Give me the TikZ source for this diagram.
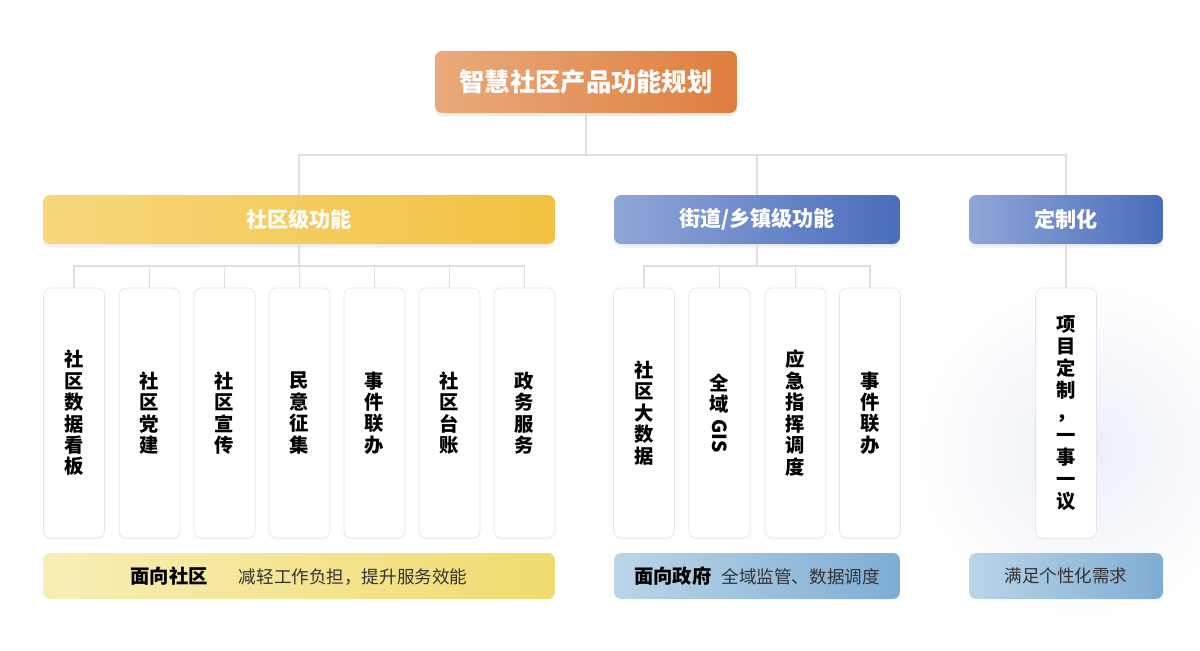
\documentclass[tikz,border=0pt]{standalone}
\usepackage{fontspec}
\usepackage{graphicx}
\setmainfont{Noto Sans CJK SC}
\usepackage{tikz}
\usetikzlibrary{shadows}
\definecolor{linkgray}{HTML}{DEDEE4}
\definecolor{boxedge}{HTML}{E4E4EC}
\definecolor{glowblue}{HTML}{EBEFF8}
\definecolor{orangeA}{HTML}{E9AA7C}
\definecolor{orangeB}{HTML}{DF7E3E}
\definecolor{yellowA}{HTML}{F7D77C}
\definecolor{yellowB}{HTML}{F2C141}
\definecolor{blueA}{HTML}{8FA6D8}
\definecolor{blueB}{HTML}{4A6DBB}
\definecolor{paleyA}{HTML}{F8EEB6}
\definecolor{paleyB}{HTML}{F0DB6E}
\definecolor{palebA}{HTML}{BAD5E8}
\definecolor{palebB}{HTML}{7EADD3}
\definecolor{textgray}{HTML}{333333}
\tikzstyle{link}=[draw=linkgray, line width=0.6pt]
\tikzstyle{head}=[rounded corners=4pt, inner sep=0pt, minimum height=0.98cm, text=white, font=\fontsize{12}{14}\selectfont\bfseries, drop shadow={opacity=0.12, shadow xshift=0pt, shadow yshift=-2pt}]
\tikzstyle{title}=[head, minimum width=6.04cm, minimum height=1.24cm, left color=orangeA, right color=orangeB, font=\fontsize{14.4}{16}\selectfont\bfseries]
\tikzstyle{yhead}=[head, left color=yellowA, right color=yellowB]
\tikzstyle{bhead}=[head, left color=blueA, right color=blueB]
\tikzstyle{func}=[draw=boxedge, fill=white, rounded corners=4pt, inner sep=0pt, minimum width=1.22cm, minimum height=5cm, align=center, font=\fontsize{11}{12.2}\selectfont\bfseries, drop shadow={opacity=0.05, shadow xshift=0pt, shadow yshift=-1pt}]
\tikzstyle{bar}=[rounded corners=4pt, inner sep=0pt, minimum height=0.92cm, text=black]
\tikzstyle{ybar}=[bar, left color=paleyA, right color=paleyB]
\tikzstyle{bbar}=[bar, left color=palebA, right color=palebB]
\newcommand{\barhead}[1]{{\fontsize{11}{13}\selectfont\bfseries #1}}
\newcommand{\bartext}[1]{{\fontsize{10}{12}\selectfont\color{textgray}#1}}
\begin{document}
\begin{tikzpicture}[x=0.02cm, y=-0.02cm]
        \useasboundingbox (0,0) rectangle (1200,650);
        \shade[inner color=glowblue, outer color=white] (1085, 450) circle (170);
        \node[title]                              (top) at (586, 82) {智慧社区产品功能规划};
        \node[yhead, minimum width=10.24cm]       (G1) at (299, 219.5) {社区级功能};
        \node[bhead, minimum width=5.72cm]        (G2) at (757, 219.5) {街道/乡镇级功能};
        \node[bhead, minimum width=3.88cm]        (G3) at (1066, 219.5) {定制化};
        \node[func] (A1) at (74, 413)    {社\\区\\数\\据\\看\\板};
        \node[func] (A2) at (149.5, 413) {社\\区\\党\\建};
        \node[func] (A3) at (224.5, 413) {社\\区\\宣\\传};
        \node[func] (A4) at (299.5, 413) {民\\意\\征\\集};
        \node[func] (A5) at (374.5, 413) {事\\件\\联\\办};
        \node[func] (A6) at (449.5, 413) {社\\区\\台\\账};
        \node[func] (A7) at (524.5, 413) {政\\务\\服\\务};
        \node[func] (B1) at (644, 413)   {社\\区\\大\\数\\据};
        \node[func] (B2) at (719.5, 413) {全\\域\\\raisebox{8pt}{\rotatebox{-90}{GIS}}};
        \node[func] (B3) at (795.5, 413) {应\\急\\指\\挥\\调\\度};
        \node[func] (B4) at (870, 413)   {事\\件\\联\\办};
        \node[func, font=\fontsize{11}{12.6}\selectfont\bfseries] (C1) at (1066, 413) {项\\目\\定\\制\\，\\一\\事\\一\\议};
        \node[ybar, minimum width=10.24cm] (P1) at (299, 576) {\barhead{面向社区}\hspace{0.62cm}\bartext{减轻工作负担，提升服务效能}};
        \node[bbar, minimum width=5.72cm]  (P2) at (757, 576) {\barhead{面向政府}\hspace{0.2cm}\bartext{全域监管、数据调度}};
        \node[bbar, minimum width=3.88cm]  (P3) at (1066, 576) {\bartext{满足个性化需求}};
        \coordinate (hub) at (586, 155);
        \coordinate (S1) at (299.5, 266);
        \coordinate (S2) at (757, 266);
        \draw[link] (top) -- (hub);
        \draw[link] (G1.north) |- (hub) -| (G3.north);
        \draw[link] (G2.north) -- (G2.north |- hub);
        \draw[link] (G1.south) -- (G1.south |- S1);
        \draw[link] (A1.north) |- (S1) -| (A7.north);
        \draw[link] (A2.north) -- (A2.north |- S1);
        \draw[link] (A3.north) -- (A3.north |- S1);
        \draw[link] (A4.north) -- (A4.north |- S1);
        \draw[link] (A5.north) -- (A5.north |- S1);
        \draw[link] (A6.north) -- (A6.north |- S1);
        \draw[link] (G2.south) -- (S2);
        \draw[link] (B1.north) |- (S2) -| (B4.north);
        \draw[link] (B2.north) -- (B2.north |- S2);
        \draw[link] (B3.north) -- (B3.north |- S2);
        \draw[link] (G3.south) -- (C1.north);
    \end{tikzpicture}
\end{document}
